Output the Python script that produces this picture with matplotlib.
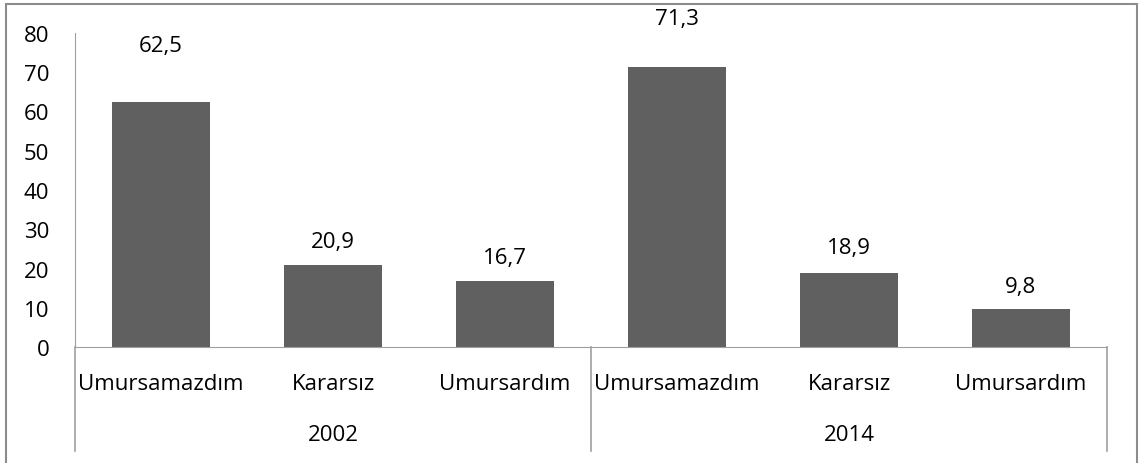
import matplotlib.pyplot as plt
from matplotlib.patches import Rectangle
from matplotlib.lines import Line2D

categories = ["Umursamazdım", "Kararsız", "Umursardım", "Umursamazdım", "Kararsız", "Umursardım"]
groups = ["2002", "2014"]
values = [62.5, 20.9, 16.7, 71.3, 18.9, 9.8]
labels = ["62,5", "20,9", "16,7", "71,3", "18,9", "9,8"]
# the data labels do not sit at the same distance above every bar
label_offsets = [14.4, 5.9, 6.0, 12.5, 6.5, 5.7]

plt.rcParams['font.family'] = ['Open Sans', 'DejaVu Sans']
fs = 16

fig = plt.figure(figsize=(11.47, 4.64), dpi=100)
ax = fig.add_axes([75 / 1147, 1 - 348 / 464, (1107 - 75) / 1147, (348 - 34) / 464])

x = list(range(len(values)))
ax.bar(x, values, width=0.565, color='#606060', zorder=2)
for xi, v, lab, off in zip(x, values, labels, label_offsets):
    ax.text(xi, v + off, lab, ha='center', va='center', fontsize=fs, color='black',
            clip_on=False)

ax.set_xlim(-0.5, len(values) - 0.5)
ax.set_ylim(0, 80)
ax.set_yticks(range(0, 81, 10))
ax.tick_params(axis='y', length=0, labelsize=fs, pad=18.5)
ax.set_xticks([])
for s in ['top', 'right']:
    ax.spines[s].set_visible(False)
ax.spines['left'].set_color('#a0a0a0')
ax.spines['bottom'].set_color('#a0a0a0')

# category labels under the axis
for xi, c in zip(x, categories):
    ax.text(xi, -0.115, c, transform=ax.get_xaxis_transform(), ha='center', va='center',
            fontsize=fs)
for gi, g in enumerate(groups):
    ax.text(gi * 3 + 1, -0.28, g, transform=ax.get_xaxis_transform(), ha='center',
            va='center', fontsize=fs)

# group separators
for sx in [-0.5, 2.5, 5.5]:
    ax.add_line(Line2D([sx, sx], [0, -0.33], transform=ax.get_xaxis_transform(),
                       color='#a0a0a0', lw=1.2, clip_on=False))

fig.add_artist(Rectangle((6 / 1147, -0.01), (1137 - 6) / 1147, 1.01 - 5 / 464,
                         transform=fig.transFigure, fill=False, edgecolor='#8c8c8c', lw=1.5))

fig.savefig('out.png', dpi=100)
